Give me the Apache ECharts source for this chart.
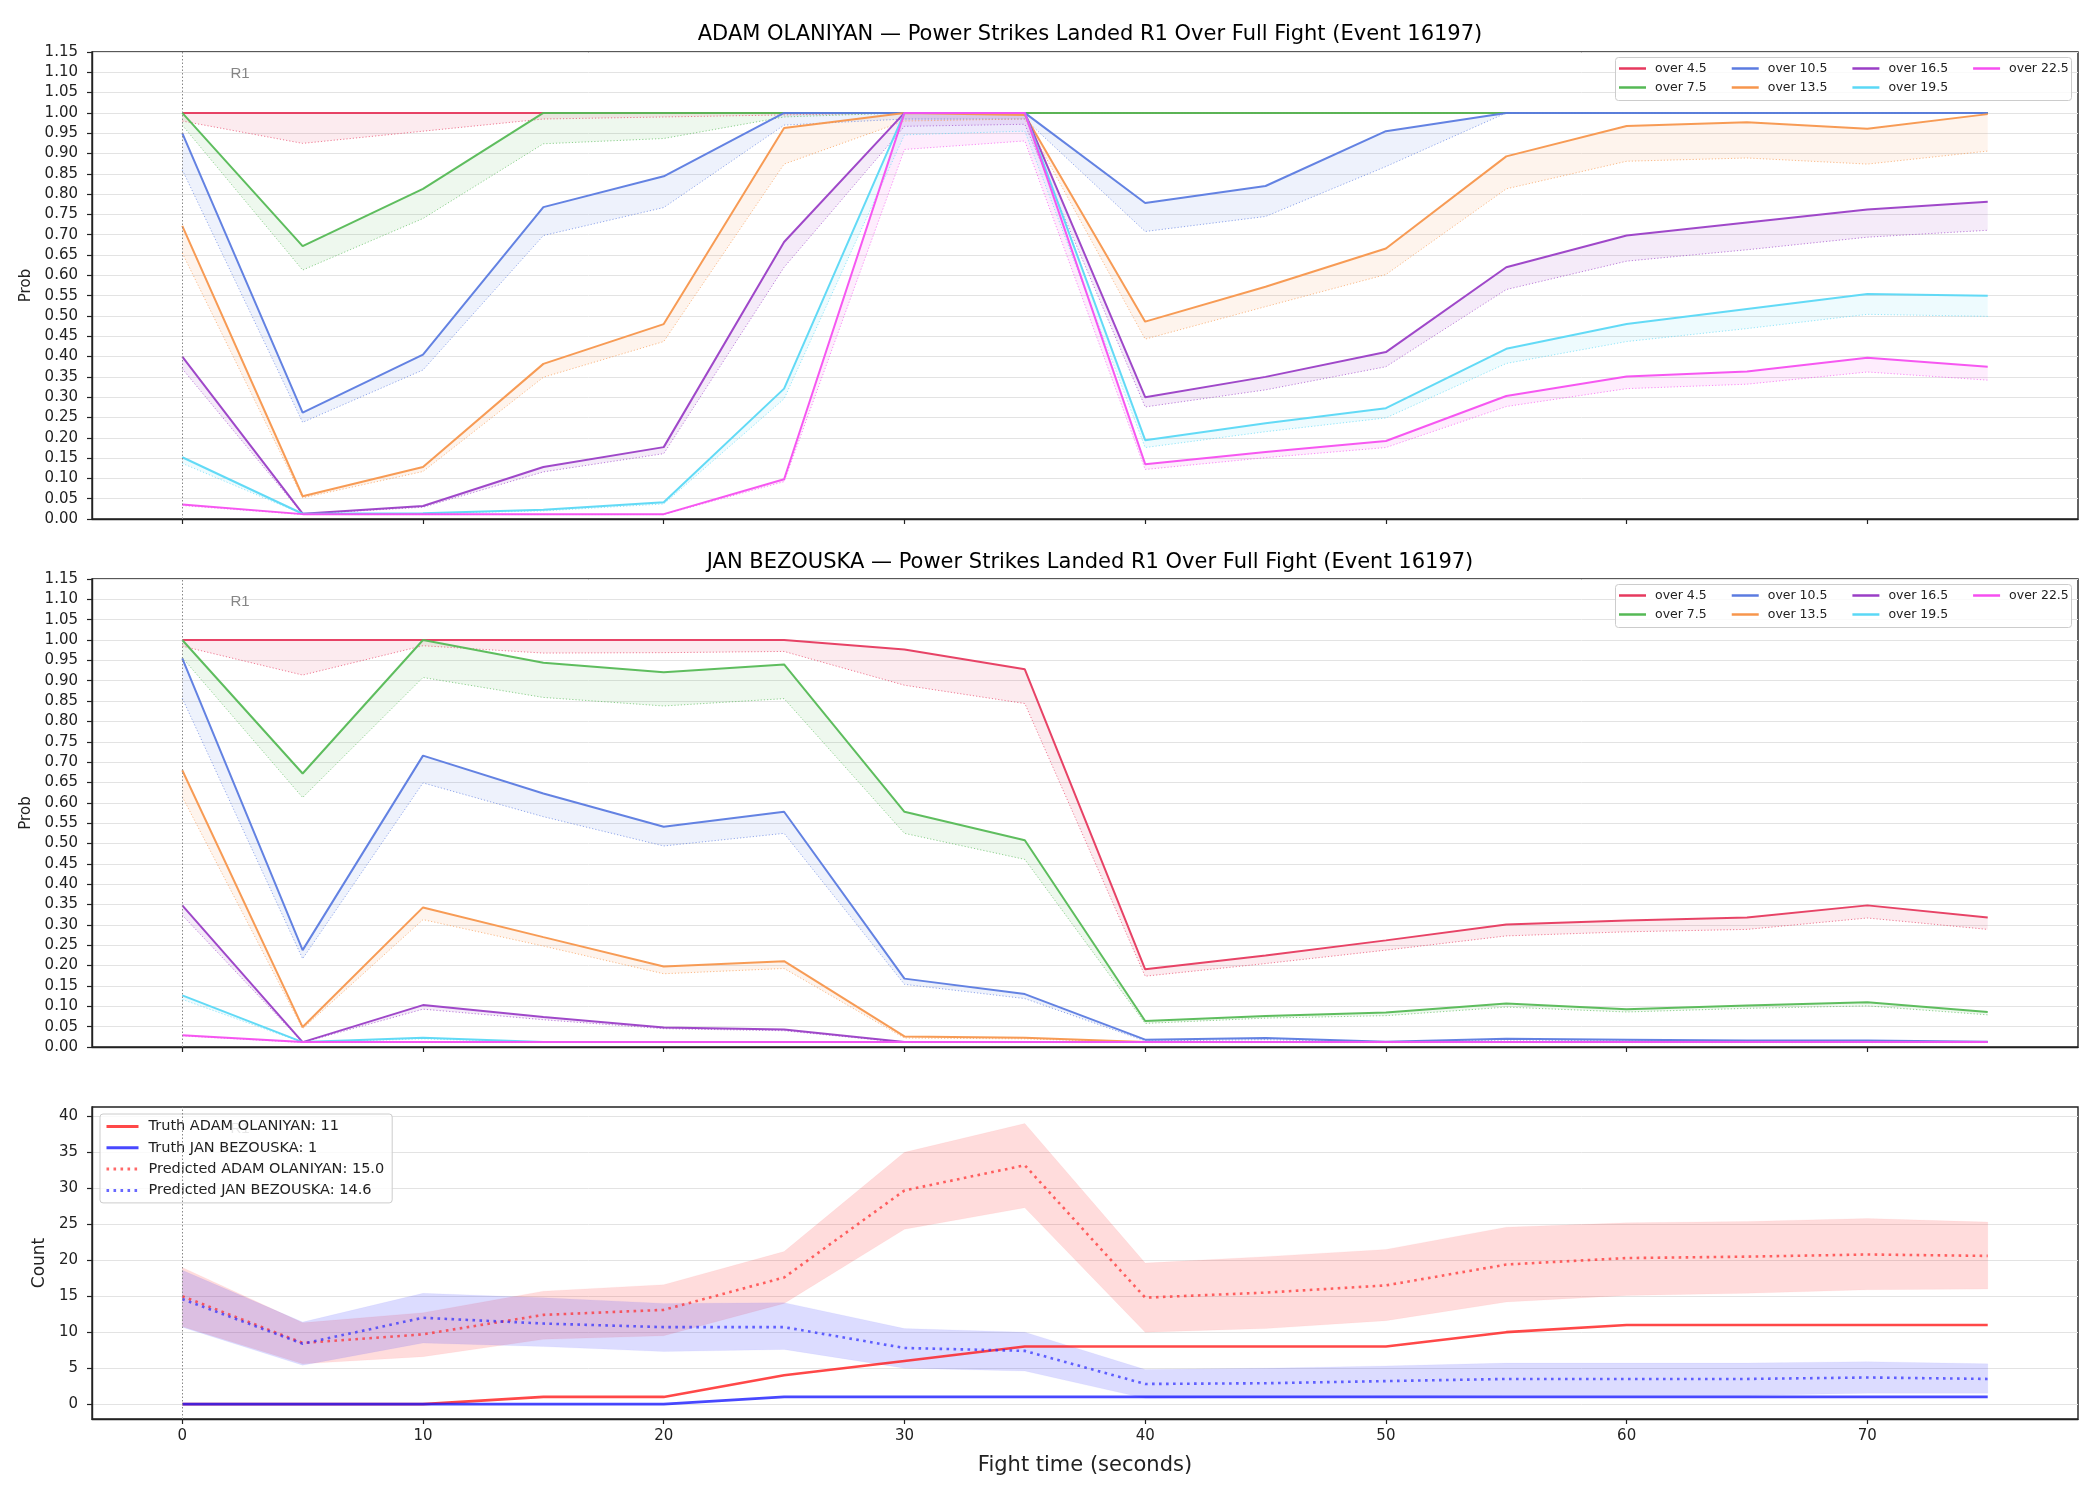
<!DOCTYPE html>
<html>
<head>
<meta charset="utf-8">
<script src="https://cdn.jsdelivr.net/npm/echarts@6/dist/echarts.min.js"></script>
<style>
html, body { margin: 0; padding: 0; background: #fff; }
#chart { width: 2100px; height: 1500px; }
</style>
</head>
<body>
<div id="chart"></div>
<script>
// fight time (seconds)
var times = [0, 5, 10, 15, 20, 25, 30, 35, 40, 45, 50, 55, 60, 65, 70, 75];
var xTicks = [0, 10, 20, 30, 40, 50, 60, 70];
var countTicks = [0, 5, 10, 15, 20, 25, 30, 35, 40];
var lineNames = ['over 4.5', 'over 7.5', 'over 10.5', 'over 13.5', 'over 16.5', 'over 19.5', 'over 22.5'];
var lineColors = ['#e6395e', '#55b955', '#5b7be0', '#f7964c', '#9a3ec6', '#5ad8f6', '#f64ef0'];

// ADAM OLANIYAN - prob (solid) and lower dotted
var adam45   = [1, 1, 1, 1, 1, 1, 1, 1, 1, 1, 1, 1, 1, 1, 1, 1];
var adam45lo = [0.98, 0.925, 0.955, 0.985, 0.99, 0.995, 1, 1, 1, 1, 1, 1, 1, 1, 1, 1];
var adam75   = [1, 0.672, 0.813, 1, 1, 1, 1, 1, 1, 1, 1, 1, 1, 1, 1, 1];
var adam75lo = [0.97, 0.613, 0.74, 0.924, 0.937, 0.99, 1, 1, 1, 1, 1, 1, 1, 1, 1, 1];
var adam105   = [0.95, 0.262, 0.405, 0.768, 0.844, 1, 1, 1, 0.778, 0.82, 0.955, 1, 1, 1, 1, 1];
var adam105lo = [0.86, 0.238, 0.367, 0.698, 0.767, 0.97, 0.985, 0.985, 0.708, 0.745, 0.868, 1, 1, 1, 1, 1];
var adam135   = [0.722, 0.056, 0.128, 0.382, 0.48, 0.963, 1, 0.995, 0.486, 0.572, 0.666, 0.893, 0.968, 0.977, 0.961, 0.997];
var adam135lo = [0.655, 0.052, 0.117, 0.349, 0.437, 0.874, 0.98, 0.985, 0.443, 0.523, 0.602, 0.813, 0.881, 0.889, 0.874, 0.906];
var adam165   = [0.4, 0.013, 0.032, 0.128, 0.177, 0.682, 1, 1, 0.3, 0.35, 0.411, 0.62, 0.698, 0.73, 0.762, 0.781];
var adam165lo = [0.37, 0.012, 0.029, 0.116, 0.161, 0.62, 0.967, 0.972, 0.276, 0.318, 0.375, 0.565, 0.635, 0.663, 0.694, 0.711];
var adam195   = [0.152, 0.013, 0.014, 0.023, 0.041, 0.321, 1, 1, 0.194, 0.236, 0.273, 0.419, 0.48, 0.517, 0.554, 0.55];
var adam195lo = [0.137, 0.012, 0.013, 0.02, 0.037, 0.296, 0.946, 0.955, 0.176, 0.215, 0.249, 0.383, 0.437, 0.469, 0.504, 0.499];
var adam225   = [0.036, 0.012, 0.012, 0.012, 0.012, 0.098, 1, 1, 0.135, 0.165, 0.192, 0.303, 0.351, 0.363, 0.397, 0.375];
var adam225lo = [0.033, 0.011, 0.011, 0.011, 0.011, 0.092, 0.91, 0.931, 0.122, 0.151, 0.176, 0.277, 0.321, 0.332, 0.362, 0.342];

// JAN BEZOUSKA - prob (solid) and lower dotted
var jan45   = [1, 1, 1, 1, 1, 1, 0.977, 0.928, 0.191, 0.225, 0.262, 0.301, 0.311, 0.318, 0.348, 0.318];
var jan45lo = [0.985, 0.914, 0.986, 0.968, 0.969, 0.972, 0.889, 0.844, 0.174, 0.205, 0.238, 0.273, 0.283, 0.289, 0.317, 0.289];
var jan75   = [1, 0.672, 1, 0.944, 0.921, 0.94, 0.578, 0.508, 0.064, 0.076, 0.085, 0.107, 0.093, 0.102, 0.11, 0.086];
var jan75lo = [0.957, 0.613, 0.908, 0.859, 0.838, 0.856, 0.525, 0.461, 0.058, 0.071, 0.077, 0.098, 0.086, 0.095, 0.101, 0.079];
var jan105   = [0.955, 0.238, 0.716, 0.623, 0.541, 0.578, 0.168, 0.13, 0.018, 0.022, 0.013, 0.02, 0.018, 0.016, 0.016, 0.013];
var jan105lo = [0.857, 0.217, 0.649, 0.566, 0.494, 0.525, 0.154, 0.119, 0.015, 0.018, 0.012, 0.017, 0.015, 0.014, 0.014, 0.012];
var jan135   = [0.68, 0.049, 0.343, 0.27, 0.198, 0.211, 0.026, 0.023, 0.012, 0.012, 0.012, 0.012, 0.012, 0.012, 0.012, 0.012];
var jan135lo = [0.615, 0.045, 0.313, 0.248, 0.18, 0.193, 0.022, 0.02, 0.011, 0.011, 0.011, 0.011, 0.011, 0.011, 0.011, 0.011];
var jan165   = [0.348, 0.012, 0.103, 0.074, 0.048, 0.043, 0.012, 0.012, 0.012, 0.012, 0.012, 0.012, 0.012, 0.012, 0.012, 0.012];
var jan165lo = [0.324, 0.011, 0.093, 0.067, 0.045, 0.04, 0.011, 0.011, 0.011, 0.011, 0.011, 0.011, 0.011, 0.011, 0.011, 0.011];
var jan195   = [0.127, 0.012, 0.023, 0.012, 0.012, 0.012, 0.012, 0.012, 0.012, 0.012, 0.012, 0.012, 0.012, 0.012, 0.012, 0.012];
var jan195lo = [0.117, 0.011, 0.02, 0.011, 0.011, 0.011, 0.011, 0.011, 0.011, 0.011, 0.011, 0.011, 0.011, 0.011, 0.011, 0.011];
var jan225   = [0.029, 0.012, 0.012, 0.012, 0.012, 0.012, 0.012, 0.012, 0.012, 0.012, 0.012, 0.012, 0.012, 0.012, 0.012, 0.012];
var jan225lo = [0.027, 0.011, 0.011, 0.011, 0.011, 0.011, 0.011, 0.011, 0.011, 0.011, 0.011, 0.011, 0.011, 0.011, 0.011, 0.011];

// counts
var truthAdam = [0, 0, 0, 1, 1, 4, 6, 8, 8, 8, 8, 10, 11, 11, 11, 11];
var truthJan  = [0, 0, 0, 0, 0, 1, 1, 1, 1, 1, 1, 1, 1, 1, 1, 1];
var predAdam   = [15.0, 8.5, 9.7, 12.4, 13.1, 17.6, 29.7, 33.2, 14.8, 15.5, 16.5, 19.4, 20.3, 20.5, 20.8, 20.6];
var predAdamHi = [19.0, 11.3, 12.7, 15.7, 16.6, 21.2, 35.0, 39.0, 19.6, 20.5, 21.5, 24.6, 25.2, 25.4, 25.8, 25.3];
var predAdamLo = [10.8, 5.6, 6.6, 9.0, 9.5, 14.0, 24.3, 27.3, 10.0, 10.5, 11.6, 14.2, 15.1, 15.4, 15.9, 16.0];
var predJan   = [14.6, 8.4, 12.0, 11.2, 10.7, 10.7, 7.8, 7.4, 2.8, 2.9, 3.2, 3.5, 3.5, 3.5, 3.7, 3.5];
var predJanHi = [18.6, 11.4, 15.4, 14.8, 14.0, 14.1, 10.5, 10.0, 4.8, 5.0, 5.3, 5.7, 5.7, 5.7, 5.9, 5.6];
var predJanLo = [10.7, 5.4, 8.5, 8.0, 7.3, 7.6, 5.0, 4.6, 0.8, 0.9, 1.1, 1.2, 1.2, 1.2, 1.5, 1.5];

var adamSets = [[adam45, adam45lo], [adam75, adam75lo], [adam105, adam105lo], [adam135, adam135lo],
                [adam165, adam165lo], [adam195, adam195lo], [adam225, adam225lo]];
var janSets = [[jan45, jan45lo], [jan75, jan75lo], [jan105, jan105lo], [jan135, jan135lo],
               [jan165, jan165lo], [jan195, jan195lo], [jan225, jan225lo]];

function pairs(vals) {
    return times.map(function (t, i) { return [t, vals[i]]; });
}

// fill between two arrays, drawn through the axis scale
function band(idx, upper, lower, fill, opacity, stroke) {
    return {
        type: 'custom', xAxisIndex: idx, yAxisIndex: idx, silent: true,
        data: [[0, 0]],
        renderItem: function (params, api) {
            var pts = [];
            for (var i = 0; i < times.length; i++) pts.push(api.coord([times[i], upper[i]]));
            for (var j = times.length - 1; j >= 0; j--) pts.push(api.coord([times[j], lower[j]]));
            return {
                type: 'polygon', shape: { points: pts },
                style: { fill: fill, opacity: opacity, stroke: stroke || null, lineWidth: 1 }
            };
        }
    };
}

function line(idx, name, vals, color, width, type, opacity) {
    return {
        type: 'line', name: name, xAxisIndex: idx, yAxisIndex: idx,
        data: pairs(vals), symbol: 'none', silent: true,
        lineStyle: { color: color, width: width, type: type || 'solid', opacity: opacity || 1 },
        itemStyle: { color: color },
        emphasis: { disabled: true }
    };
}

function vmark(idx, y) {
    return {
        type: 'scatter', xAxisIndex: idx, yAxisIndex: idx, silent: true,
        data: [[2.4, y]], symbolSize: 0,
        label: { show: true, position: 'inside', formatter: 'R1', color: '#666', fontSize: 15 },
        markLine: {
            silent: true, symbol: ['none', 'none'], label: { show: false },
            lineStyle: { color: '#888', type: [1.5, 2], width: 1 },
            data: [{ xAxis: 0 }]
        }
    };
}

var series = [];
[adamSets, janSets].forEach(function (sets, idx) {
    sets.forEach(function (s, k) {
        series.push(band(idx, s[0], s[1], lineColors[k], 0.1));
        series.push(line(idx, lineNames[k], s[0], lineColors[k], 2, 'solid', 0.95));
        series.push(line(idx, lineNames[k] + ' lo', s[1], lineColors[k], 1, [1.2, 2], 0.65));
    });
    series.push(vmark(idx, idx === 0 ? 1.095 : 1.093));
});

series.push(vmark(2, 38.2));
series.push(band(2, predAdamHi, predAdamLo, '#ff3030', 0.17, 'rgba(255,60,60,0.25)'));
series.push(band(2, predJanHi, predJanLo, '#3030ff', 0.17, 'rgba(60,60,255,0.25)'));
series.push(line(2, 'Truth ADAM OLANIYAN: 11', truthAdam, 'rgba(255,20,20,0.78)', 2.6));
series.push(line(2, 'Truth JAN BEZOUSKA: 1', truthJan, 'rgba(20,20,255,0.78)', 2.6));
series.push(line(2, 'Predicted ADAM OLANIYAN: 15.0', predAdam, 'rgba(255,40,40,0.7)', 2.6, [2.6, 4.4]));
series.push(line(2, 'Predicted JAN BEZOUSKA: 14.6', predJan, 'rgba(40,40,255,0.7)', 2.6, [2.6, 4.4]));

var grids = [
    { left: 92, right: 22, top: 52, height: 467 },
    { left: 92, right: 22, top: 579, height: 468 },
    { left: 92, right: 22, top: 1107, height: 312 }
];
grids.forEach(function (g) { g.show = true; g.borderColor = '#222'; g.borderWidth = 1.4; g.backgroundColor = 'transparent'; });

function xAxis(idx, showLabels) {
    return {
        type: 'value', gridIndex: idx, min: -3.75, max: 78.75,
        splitLine: { show: false },
        axisLine: { onZero: false, lineStyle: { color: '#222', width: 1.4 } },
        axisTick: { show: true, length: 5, lineStyle: { color: '#222', width: 1.2 }, customValues: xTicks },
        axisLabel: { show: showLabels, customValues: xTicks, fontSize: 15, color: '#222', margin: 10, fontFamily: 'DejaVu Sans' },
        name: showLabels ? 'Fight time (seconds)' : '', nameLocation: 'middle', nameGap: 36,
        nameTextStyle: { fontSize: 21, color: '#222', fontFamily: 'DejaVu Sans' }
    };
}

function probAxis(idx) {
    return {
        type: 'value', gridIndex: idx, min: 0, max: 1.15, interval: 0.05,
        name: 'Prob', nameLocation: 'middle', nameGap: 58,
        nameTextStyle: { fontSize: 15, color: '#222', fontFamily: 'DejaVu Sans' },
        axisLine: { onZero: false, lineStyle: { color: '#222', width: 1.4 } },
        axisTick: { show: true, length: 5, lineStyle: { color: '#222', width: 1.2 } },
        axisLabel: { fontSize: 15, color: '#222', margin: 14, fontFamily: 'DejaVu Sans',
            formatter: function (v) { return v.toFixed(2); } },
        splitLine: { show: true, lineStyle: { color: '#e3e3e3', width: 1 } }
    };
}

var countAxis = {
    type: 'value', gridIndex: 2, min: -2.07, max: 41.3,
    name: 'Count', nameLocation: 'middle', nameGap: 40,
    nameTextStyle: { fontSize: 17, color: '#222', fontFamily: 'DejaVu Sans' },
    axisLine: { onZero: false, lineStyle: { color: '#222', width: 1.4 } },
    axisTick: { show: true, length: 5, lineStyle: { color: '#222', width: 1.2 }, customValues: countTicks },
    axisLabel: { fontSize: 15, color: '#222', margin: 14, fontFamily: 'DejaVu Sans', customValues: countTicks },
    splitLine: { show: true, lineStyle: { color: '#e3e3e3', width: 1 } }
};

function probLegend(top, names) {
    return {
        left: 1619, top: top, data: names, icon: 'rect', itemWidth: 27, itemHeight: 2.5, itemGap: 25,
        selectedMode: false, padding: 0,
        textStyle: { fontSize: 12.5, color: '#222', fontFamily: 'DejaVu Sans', padding: [0, 0, 0, 4] }
    };
}
var row1 = ['over 4.5', 'over 10.5', 'over 16.5', 'over 22.5'];
var row2 = ['over 7.5', 'over 13.5', 'over 19.5'];

function legendBox(top) {
    return {
        type: 'rect', left: 1615, top: top, z: 3,
        shape: { width: 456, height: 43, r: 3 },
        style: { fill: 'rgba(255,255,255,0.8)', stroke: '#cccccc', lineWidth: 1 }
    };
}

function title(text, top) {
    return { text: text, left: 1085, top: top, textAlign: 'center',
        textStyle: { fontSize: 21, fontWeight: 'normal', color: '#000', fontFamily: 'DejaVu Sans' } };
}

var chart = echarts.init(document.getElementById('chart'));
chart.setOption({
    animation: false,
    backgroundColor: '#fff',
    title: [
        title('ADAM OLANIYAN — Power Strikes Landed R1 Over Full Fight (Event 16197)', 19),
        title('JAN BEZOUSKA — Power Strikes Landed R1 Over Full Fight (Event 16197)', 547)
    ],
    grid: grids,
    xAxis: [xAxis(0, false), xAxis(1, false), xAxis(2, true)],
    yAxis: [probAxis(0), probAxis(1), countAxis],
    legend: [
        probLegend(62, row1), probLegend(81, row2),
        probLegend(589, row1), probLegend(608, row2),
        {
            left: 100, top: 1114, orient: 'vertical', itemWidth: 32, itemHeight: 16, itemGap: 6.3,
            selectedMode: false, padding: [5, 8, 5, 5],
            itemStyle: { opacity: 0 },
            lineStyle: { width: 3 },
            borderColor: '#cccccc', borderWidth: 1, borderRadius: 3, backgroundColor: 'rgba(255,255,255,0.8)',
            data: ['Truth ADAM OLANIYAN: 11', 'Truth JAN BEZOUSKA: 1', 'Predicted ADAM OLANIYAN: 15.0', 'Predicted JAN BEZOUSKA: 14.6'],
            textStyle: { fontSize: 14.5, color: '#222', fontFamily: 'DejaVu Sans', padding: [0, 0, 0, 5] }
        }
    ],
    graphic: [legendBox(57), legendBox(584)],
    series: series
});
</script>
</body>
</html>
